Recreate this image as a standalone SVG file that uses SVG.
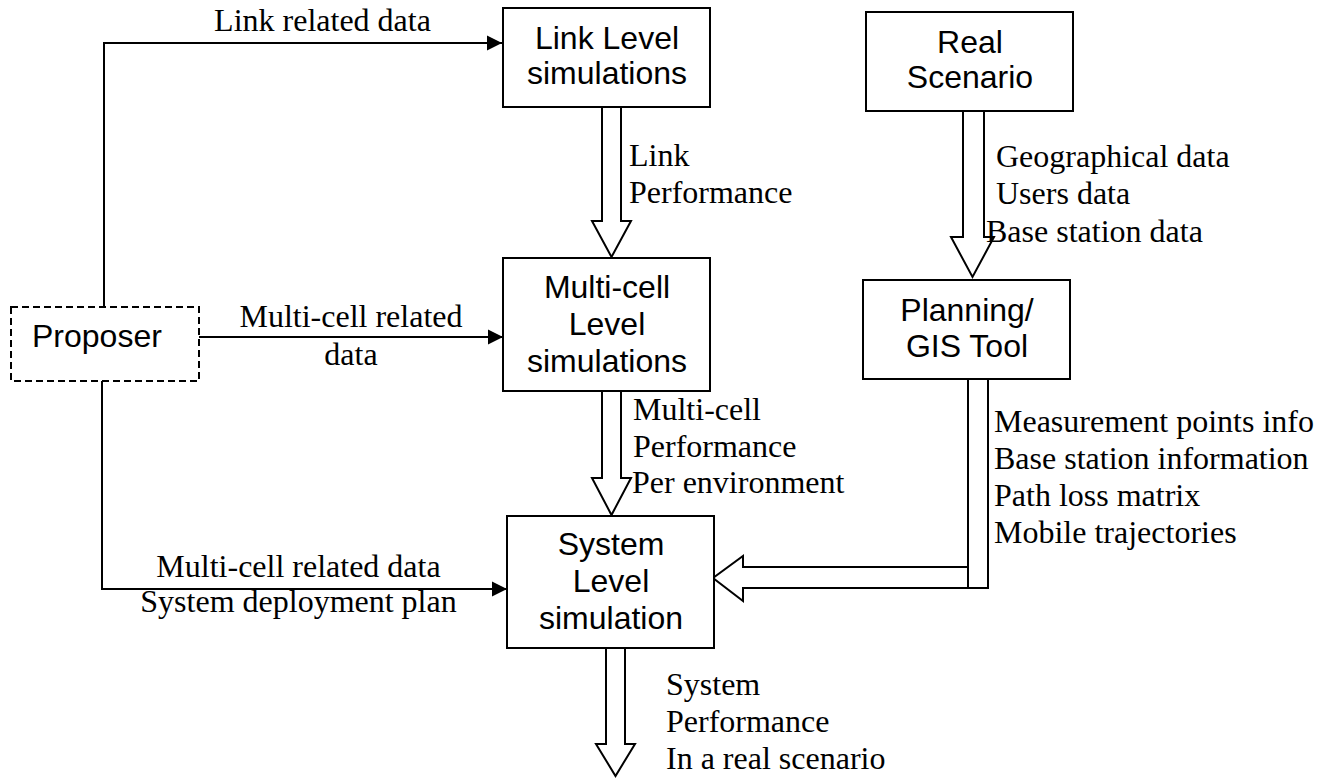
<svg xmlns="http://www.w3.org/2000/svg" width="1327" height="778" viewBox="0 0 1327 778">
  <style>
    .box { fill: #fff; stroke: #000; stroke-width: 2; }
    .dash { fill: #fff; stroke: #000; stroke-width: 2; stroke-dasharray: 7 4; }
    .blk { fill: #fff; stroke: #000; stroke-width: 2; stroke-linejoin: miter; }
    .line { fill: none; stroke: #000; stroke-width: 2; }
    .sans { font-family: "Liberation Sans", Arial, sans-serif; font-size: 32px; fill: #000; text-anchor: middle; }
    .serif { font-family: "Liberation Serif", "Times New Roman", serif; font-size: 32px; fill: #000; }
    .mid { text-anchor: middle; }
  </style>
  <defs>
    <marker id="tip" markerUnits="userSpaceOnUse" markerWidth="16" markerHeight="16" refX="15" refY="8" orient="auto">
      <path d="M0,0.5 L15,8 L0,15.5 Z" fill="#000"/>
    </marker>
  </defs>
  <rect width="1327" height="778" fill="#fff"/>

  <!-- thin data connectors from the proposer and their labels -->
  <g id="connectors">
    <path class="line" d="M104,307 V43 H502" marker-end="url(#tip)"/>
    <path class="line" d="M199,337 H503" marker-end="url(#tip)"/>
    <path class="line" d="M102,381 V589 H507" marker-end="url(#tip)"/>
    <text class="serif mid" x="322.5" y="31">Link related data</text>
    <text class="serif mid" x="351" y="327">Multi-cell related</text>
    <text class="serif mid" x="351" y="365">data</text>
    <text class="serif mid" x="298.5" y="577">Multi-cell related data</text>
    <text class="serif mid" x="298.5" y="612">System deployment plan</text>

    <!-- hollow block arrows -->
    <path class="blk" d="M602,107 V221 H592 L611.5,257 L631,221 H621 V107 Z"/>
    <path class="blk" d="M602,391 V478 H592 L611.5,515 L631,478 H621 V391 Z"/>
    <path class="blk" d="M963,111 V237 H951 L972.5,277 L994,237 H984 V111 Z"/>
    <path class="blk" d="M606,648 V744 H596 L615.5,776 L635,744 H625 V648 Z"/>
    <path class="blk" d="M968,567 H743 V556 L713,578 L743,601 V588 H978"/>
    <rect class="blk" x="968" y="377" width="20" height="211"/>

    <text class="serif" x="629" y="166">Link</text>
    <text class="serif" x="629" y="203">Performance</text>
    <text class="serif" x="633" y="420">Multi-cell</text>
    <text class="serif" x="633" y="457">Performance</text>
    <text class="serif" x="632" y="493">Per environment</text>
    <text class="serif" x="996" y="167">Geographical data</text>
    <text class="serif" x="996" y="204">Users data</text>
    <text class="serif" x="986" y="242">Base station data</text>
    <text class="serif" x="994" y="432">Measurement points info</text>
    <text class="serif" x="994" y="469">Base station information</text>
    <text class="serif" x="994" y="506">Path loss matrix</text>
    <text class="serif" x="994" y="543">Mobile trajectories</text>
    <text class="serif" x="666" y="695">System</text>
    <text class="serif" x="666" y="732">Performance</text>
    <text class="serif" x="666" y="769">In a real scenario</text>
  </g>

  <g id="link-level">
    <rect class="box" x="503" y="8" width="207" height="99"/>
    <text class="sans" x="607" y="49">Link Level</text>
    <text class="sans" x="607" y="84">simulations</text>
  </g>

  <g id="multicell-level">
    <rect class="box" x="503" y="258" width="207" height="133"/>
    <text class="sans" x="607" y="298">Multi-cell</text>
    <text class="sans" x="607" y="335">Level</text>
    <text class="sans" x="607" y="372">simulations</text>
  </g>

  <g id="system-level">
    <rect class="box" x="507" y="516" width="207" height="132"/>
    <text class="sans" x="611" y="555">System</text>
    <text class="sans" x="611" y="592">Level</text>
    <text class="sans" x="611" y="629">simulation</text>
  </g>

  <g id="real-scenario">
    <rect class="box" x="866" y="12" width="207" height="99"/>
    <text class="sans" x="970" y="53">Real</text>
    <text class="sans" x="970" y="88">Scenario</text>
  </g>

  <g id="planning-gis">
    <rect class="box" x="863" y="280" width="207" height="99"/>
    <text class="sans" x="967" y="321">Planning/</text>
    <text class="sans" x="967" y="357">GIS Tool</text>
  </g>

  <g id="proposer">
    <rect class="dash" x="11" y="307" width="188" height="74"/>
    <text class="sans" x="32" y="347" style="text-anchor:start">Proposer</text>
  </g>
</svg>
